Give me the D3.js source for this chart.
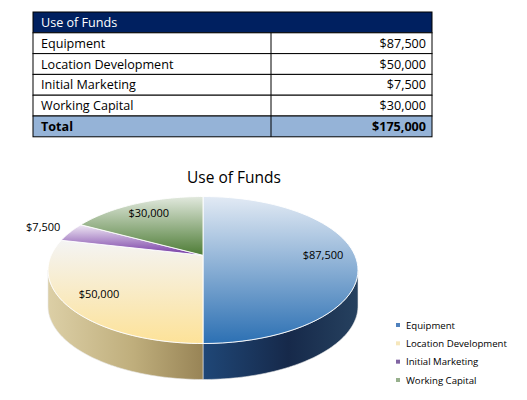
<!DOCTYPE html>
<html>
<head>
<meta charset="utf-8">
<script src="https://cdn.jsdelivr.net/npm/d3@7"></script>
<style>
  body { margin: 0; background: #fff; }
  svg { display: block; font-family: "Open Sans", "Noto Sans", sans-serif; }
</style>
</head>
<body>
<svg id="chart" width="527" height="400"></svg>
<script>
// data
const title = "Use of Funds";
const categories = ["Equipment", "Location Development", "Initial Marketing", "Working Capital"];
const values = [87500, 50000, 7500, 30000];
const totalLabel = "Total";

const svg = d3.select("#chart");
const money = d3.format("$,.0f");

// ---- table ----
const tbl = { x0: 33, x1: 432, split: 271, top: 12, rowH: 20.8 };
const rows = [{ name: title, head: true }]
  .concat(categories.map((c, i) => ({ name: c, value: values[i] })))
  .concat([{ name: totalLabel, value: d3.sum(values), total: true }]);

const yRow = d3.scaleLinear().domain([0, 1]).range([tbl.top, tbl.top + tbl.rowH]);

const tg = svg.append("g").attr("class", "table");
const tr = tg.selectAll("g.row").data(rows).enter().append("g").attr("class", "row");

tr.append("rect")
  .attr("x", tbl.x0).attr("y", (d, i) => yRow(i))
  .attr("width", tbl.x1 - tbl.x0).attr("height", tbl.rowH)
  .attr("fill", d => d.head ? "#002060" : d.total ? "#95b3d7" : "#fff")
  .attr("stroke", "#000").attr("stroke-width", 1);

tr.filter(d => !d.head).append("line")
  .attr("x1", tbl.split).attr("x2", tbl.split)
  .attr("y1", (d, i) => yRow(i + 1)).attr("y2", (d, i) => yRow(i + 2))
  .attr("stroke", "#000");

tr.append("text")
  .attr("x", tbl.x0 + 8).attr("y", (d, i) => yRow(i) + 15)
  .attr("font-size", 12.6)
  .attr("font-weight", d => d.total ? "bold" : null)
  .attr("fill", d => d.head ? "#fff" : "#000")
  .text(d => d.name);

tr.filter(d => !d.head).append("text")
  .attr("x", tbl.x1 - 6).attr("y", (d, i) => yRow(i + 1) + 15)
  .attr("text-anchor", "end").attr("font-size", 12.6)
  .attr("font-weight", d => d.total ? "bold" : null)
  .text(d => money(d.value));

// ---- 3D pie ----
const cx = 203, cy = 270, rx = 155, ry = 73.5, depth = 36;
const p = 0.2; // perspective amount

// project a point on the unit disc (angle clockwise from 12 o'clock) onto the tilted ellipse
function proj(a, r) {
  const u = r * Math.sin(a), v = r * Math.cos(a);
  const d = 1 + p * v;
  const xn = (u / d) * Math.sqrt(1 - p * p);
  const yn = (v / d) * (1 - p * p) + p;
  return [cx + rx * xn, cy - ry * yn];
}

const pie = d3.pie().sort(null).value(d => d)(values);

const topCols = [["#e2eaf4", "#2c70b3"], ["#f4f4f4", "#fde298"], ["#efe8f4", "#7438a3"], ["#e2e9de", "#4d7c35"]];
const sideCols = [["#1f4777", "#16294a", "#26415f"], ["#dccfa6", "#bfae7c", "#988456"], ["#5e2b85", "#4a1f6c", "#5a2d80"], ["#3e6a2b", "#2f5220", "#3a6328"]];
const legendCols = ["#4f81bd", "#f6e7bc", "#8064a2", "#97b08d"];

const defs = svg.append("defs");
pie.forEach((d, i) => {
  const g = defs.append("linearGradient").attr("id", "top" + i)
    .attr("x1", 0).attr("y1", 0).attr("x2", 0).attr("y2", 1);
  g.append("stop").attr("offset", "0%").attr("stop-color", topCols[i][0]);
  g.append("stop").attr("offset", "100%").attr("stop-color", topCols[i][1]);
  const s = defs.append("linearGradient").attr("id", "side" + i)
    .attr("x1", 0).attr("y1", 0).attr("x2", 1).attr("y2", 0);
  s.append("stop").attr("offset", "0%").attr("stop-color", sideCols[i][0]);
  s.append("stop").attr("offset", "55%").attr("stop-color", sideCols[i][1]);
  s.append("stop").attr("offset", "100%").attr("stop-color", sideCols[i][2]);
});

const line = d3.line();
const arcPts = (a0, a1, r, dy) => d3.range(0, 61).map(k => {
  const q = proj(a0 + (a1 - a0) * k / 60, r);
  return [q[0], q[1] + dy];
});

// side walls: visible between the widest points of the ellipse
const aR = Math.acos(-p), aL = 2 * Math.PI - Math.acos(-p);
const pieG = svg.append("g").attr("class", "pie");
pie.forEach((d, i) => {
  const s = Math.max(d.startAngle, aR), e = Math.min(d.endAngle, aL);
  if (s >= e) return;
  const pts = arcPts(s, e, 1, 0).concat(arcPts(e, s, 1, depth));
  pieG.append("path").attr("d", line(pts) + "Z")
    .attr("fill", `url(#side${i})`)
    .attr("stroke", "#e8e8e8").attr("stroke-width", 0.6);
});

// top faces
pie.forEach((d, i) => {
  const pts = [proj(0, 0)].concat(arcPts(d.startAngle, d.endAngle, 1, 0));
  pieG.append("path").attr("d", line(pts) + "Z")
    .attr("fill", `url(#top${i})`)
    .attr("stroke", "#fff").attr("stroke-width", 0.9).attr("stroke-linejoin", "round");
});

// data labels
const labelR = [0.79, 0.79, 1.22, 0.79];
pie.forEach((d, i) => {
  const q = proj((d.startAngle + d.endAngle) / 2, labelR[i]);
  pieG.append("text").attr("x", q[0]).attr("y", q[1] + 4)
    .attr("text-anchor", "middle").attr("font-size", 11).attr("fill", "#000")
    .text(money(d.data));
});

// chart title
svg.append("text").attr("x", 234).attr("y", 183)
  .attr("text-anchor", "middle").attr("font-size", 15.5).attr("fill", "#000")
  .text(title);

// legend
const ly = d3.scalePoint().domain(categories).range([325, 380]);
const lg = svg.append("g").attr("class", "legend")
  .selectAll("g").data(categories).enter().append("g");
lg.append("rect").attr("x", 396).attr("y", d => ly(d) - 2)
  .attr("width", 4).attr("height", 4)
  .attr("fill", (d, i) => legendCols[i]);
lg.append("text").attr("x", 406).attr("y", d => ly(d) + 3.5)
  .attr("font-size", 9.6).attr("fill", "#000").text(d => d);
</script>
</body>
</html>
